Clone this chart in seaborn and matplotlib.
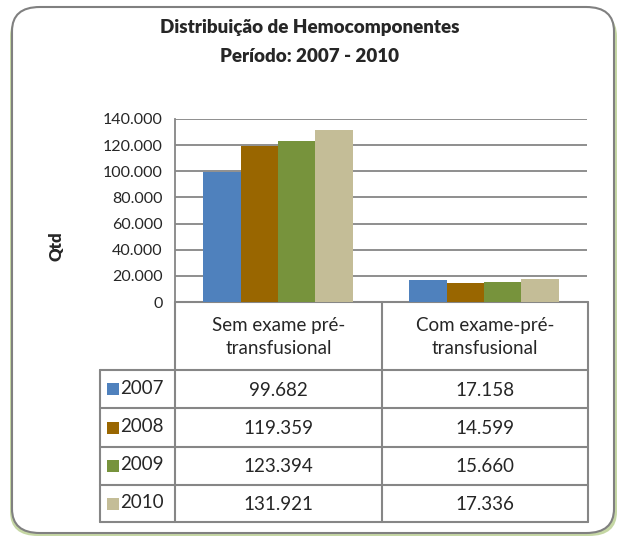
import numpy as np
import pandas as pd
import matplotlib
matplotlib.use("Agg")
import matplotlib.pyplot as plt
from matplotlib.patches import FancyBboxPatch, Rectangle
import seaborn as sns

# data
categories = ["Sem exame pré-\ntransfusional", "Com exame-pré-\ntransfusional"]
years = ["2007", "2008", "2009", "2010"]
sem_exame = [99682, 119359, 123394, 131921]
com_exame = [17158, 14599, 15660, 17336]
yticks = [0, 20000, 40000, 60000, 80000, 100000, 120000, 140000]
colors = ["#4F81BD", "#996600", "#77933C", "#C4BD97"]

def fmt(v):
    return f"{v:,}".replace(",", ".")

df = pd.DataFrame({
    "cat": np.repeat(categories, len(years)),
    "ano": years * 2,
    "qtd": sem_exame + com_exame,
})

sns.set_style("white")
plt.rcParams["font.family"] = ["Lato", "DejaVu Sans"]

W, H = 619, 537
fig = plt.figure(figsize=(W / 100, H / 100), dpi=100)

# frame with green shadow
shadow = FancyBboxPatch((10 / W, 1 / H), 607 / W, 524 / H,
                        boxstyle="round,pad=0,rounding_size=0.045",
                        transform=fig.transFigure, facecolor="#8DB04A",
                        edgecolor="none", alpha=0.5, zorder=0)
fig.patches.append(shadow)
frame = FancyBboxPatch((12 / W, 4 / H), 602 / W, 526 / H,
                       boxstyle="round,pad=0,rounding_size=0.045",
                       transform=fig.transFigure, facecolor="white",
                       edgecolor="#808080", linewidth=1.5, zorder=1)
fig.patches.append(frame)

fig.text(310 / W, 1 - 27 / H, "Distribuição de Hemocomponentes",
         ha="center", va="center", fontsize=13.5, fontweight="heavy")
fig.text(310 / W, 1 - 56 / H, "Período: 2007 - 2010",
         ha="center", va="center", fontsize=13.5, fontweight="heavy")

# bar axes
x0, x1, ytop, ybot = 175, 587, 119, 302
ax = fig.add_axes([x0 / W, 1 - ybot / H, (x1 - x0) / W, (ybot - ytop) / H])
ax.set_zorder(3)
sns.barplot(data=df, x="cat", y="qtd", hue="ano", palette=colors,
            ax=ax, width=0.725, gap=0, saturation=1, legend=False,
            edgecolor="none", zorder=3)
ax.set_ylim(0, 140000)
ax.set_yticks(yticks)
ax.set_yticklabels([fmt(v) for v in yticks], fontsize=11.5)
ax.set_xticks([])
ax.set_xlabel("")
ax.set_ylabel("")
ax.yaxis.grid(True, color="#868686", linewidth=1.3, zorder=0)
ax.set_axisbelow(True)
ax.tick_params(axis="y", length=0, pad=9)
for s in ["top", "right", "bottom"]:
    ax.spines[s].set_visible(False)
ax.spines["left"].set_color("#868686")
ax.spines["left"].set_linewidth(1.3)
ax.set_facecolor("none")

fig.text(56 / W, 1 - 246 / H, "Qtd", rotation=90, ha="center", va="center",
         fontsize=12, fontweight="heavy")

# data table under the axis
tx0, tx1, ty0, ty1 = 100, 588, 302, 522
tax = fig.add_axes([tx0 / W, 1 - ty1 / H, (tx1 - tx0) / W, (ty1 - ty0) / H])
tax.set_xlim(tx0, tx1)
tax.set_ylim(ty1, ty0)
tax.axis("off")
tax.set_zorder(2)
lc = "#868686"
lw = 1.5
col_x = [100, 175, 382, 588]
row_y = [302, 370, 408, 447, 485, 522]
# header row (no left cell)
tax.plot([175, 588], [302, 302], color=lc, lw=lw, clip_on=False)
for xx in col_x[1:]:
    tax.plot([xx, xx], [302, 522], color=lc, lw=lw, clip_on=False)
tax.plot([100, 100], [370, 522], color=lc, lw=lw, clip_on=False)
for yy in row_y[1:]:
    tax.plot([100, 588], [yy, yy], color=lc, lw=lw, clip_on=False)

for i, cat in enumerate(categories):
    cx = (col_x[i + 1] + col_x[i + 2]) / 2
    tax.text(cx, (row_y[0] + row_y[1]) / 2 + 1, cat, ha="center", va="center",
             fontsize=13.5, linespacing=1.4)

vals = [sem_exame, com_exame]
for j, yr in enumerate(years):
    cy = (row_y[j + 1] + row_y[j + 2]) / 2
    tax.add_patch(Rectangle((107, cy - 6), 12, 12, facecolor=colors[j],
                            edgecolor="none"))
    tax.text(120, cy - 1, yr, ha="left", va="center", fontsize=13.5)
    for i in range(2):
        cx = (col_x[i + 1] + col_x[i + 2]) / 2
        tax.text(cx, cy + 1, fmt(vals[i][j]), ha="center", va="center",
                 fontsize=13.5)

fig.savefig("out.png", dpi=100)
